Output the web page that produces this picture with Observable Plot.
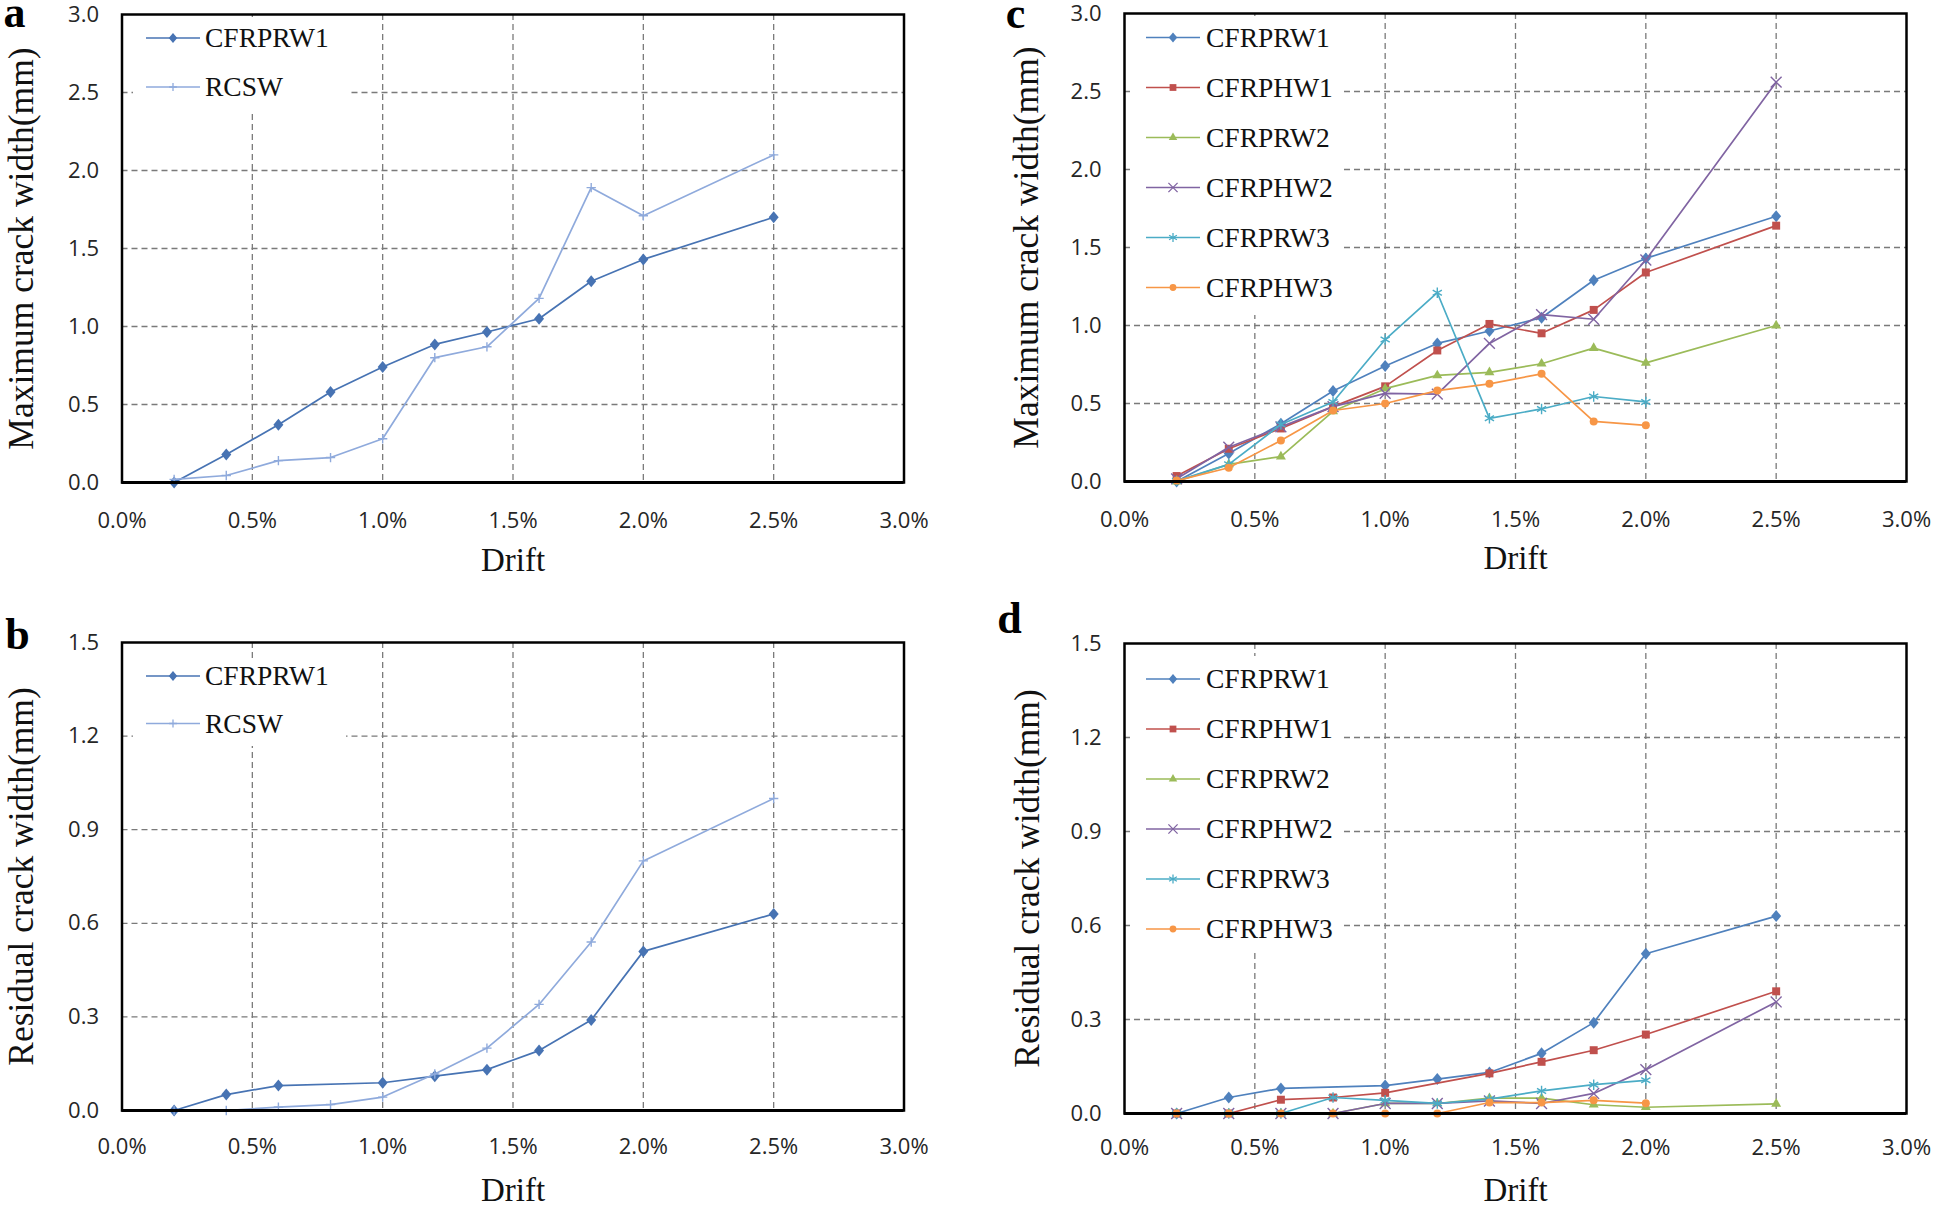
<!DOCTYPE html>
<html><head><meta charset="utf-8">
<script src="https://cdn.jsdelivr.net/npm/d3@7"></script>
<script src="https://cdn.jsdelivr.net/npm/@observablehq/plot@0.6"></script>
<style>
html,body{margin:0;padding:0;background:#fff;}
#root{position:relative;width:1937px;height:1207px;overflow:hidden;background:#fff;}
#root svg.panel{position:absolute;overflow:visible;}
#root svg.legend{position:absolute;}
</style></head><body><div id="root"></div>
<script>
// ---------- data ----------
const drift = [0.2, 0.4, 0.6, 0.8, 1.0, 1.2, 1.4, 1.6, 1.8, 2.0, 2.5];
const xTickValues = [0, 0.5, 1.0, 1.5, 2.0, 2.5, 3.0];
const maxTickValues = [0, 0.5, 1.0, 1.5, 2.0, 2.5, 3.0];
const resTickValues = [0, 0.3, 0.6, 0.9, 1.2, 1.5];

// Maximum crack width (mm)
const maxCFRPRW1 = [0, 0.18, 0.37, 0.58, 0.74, 0.885, 0.965, 1.05, 1.29, 1.43, 1.70];
const maxRCSW    = [0.02, 0.045, 0.14, 0.16, 0.28, 0.80, 0.87, 1.18, 1.89, 1.71, 2.10];
const maxCFRPHW1 = [0.035, 0.21, 0.34, 0.48, 0.61, 0.84, 1.01, 0.95, 1.10, 1.34, 1.64];
const maxCFRPRW2 = [0, 0.11, 0.16, 0.45, 0.595, 0.68, 0.70, 0.755, 0.855, 0.76, 1.00];
const maxCFRPHW2 = [0.017, 0.22, 0.35, 0.48, 0.565, 0.56, 0.885, 1.07, 1.04, 1.42, 2.56];
const maxCFRPRW3 = [0.005, 0.11, 0.365, 0.51, 0.91, 1.21, 0.405, 0.465, 0.545, 0.51, null];
const maxCFRPHW3 = [0.006, 0.088, 0.263, 0.455, 0.50, 0.583, 0.626, 0.69, 0.385, 0.36, null];

// Residual crack width (mm)
const resCFRPRW1 = [0, 0.051, 0.08, null, 0.089, 0.11, 0.131, 0.192, 0.29, 0.51, 0.63];
const resRCSW    = [0, 0, 0.011, 0.019, 0.043, 0.117, 0.20, 0.34, 0.54, 0.80, 1.00];
const resCFRPHW1 = [0, 0, 0.044, 0.051, 0.066, null, 0.128, 0.165, 0.202, 0.252, 0.39];
const resCFRPRW2 = [0, 0, 0, 0, 0.032, 0.032, 0.049, 0.049, 0.028, 0.02, 0.031];
const resCFRPHW2 = [0, 0, 0, 0, 0.032, 0.032, 0.04, 0.032, 0.064, 0.14, 0.356];
const resCFRPRW3 = [0, 0, 0, 0.051, 0.042, 0.032, 0.046, 0.072, 0.092, 0.106, null];
const resCFRPHW3 = [0, 0, 0, 0, 0, 0, 0.035, 0.035, 0.042, 0.033, null];

// ---------- styles ----------
const SERIF = "'Liberation Serif', 'Times New Roman', serif";
const SANS = "'Open Sans', Lato, sans-serif";
const excelDiamond = {draw(ctx, size) { const r = Math.sqrt(size / Math.PI); ctx.moveTo(0, -1.2 * r); ctx.lineTo(r, 0); ctx.lineTo(0, 1.2 * r); ctx.lineTo(-r, 0); ctx.closePath(); }};
const style = {
  CFRPRW1a: {color: "#4773B3", symbol: excelDiamond, r: 5, filled: true},
  RCSW:     {color: "#8FAADC", symbol: "plus", r: 3.1, filled: false},
  CFRPRW1:  {color: "#4F81BD", symbol: excelDiamond, r: 5, filled: true},
  CFRPHW1:  {color: "#C0504D", symbol: "square", r: 4.5, filled: true},
  CFRPRW2:  {color: "#9BBB59", symbol: "triangle", r: 3.7, filled: true},
  CFRPHW2:  {color: "#8064A2", symbol: "times", r: 5, filled: false},
  CFRPRW3:  {color: "#4BACC6", symbol: "asterisk", r: 5, filled: false},
  CFRPHW3:  {color: "#F79646", symbol: "circle", r: 4, filled: true}
};
const d3sym = {plus: d3.symbolPlus, square: d3.symbolSquare, triangle: d3.symbolTriangle, times: d3.symbolTimes, asterisk: d3.symbolAsterisk, circle: d3.symbolCircle};

const root = document.getElementById("root");

function makePanel(cfg) {
  const W = cfg.width, H = cfg.height;
  const marks = [
    Plot.gridX(cfg.xGrid, {stroke: "#7a7a7a", strokeOpacity: 1, strokeWidth: 1.3, strokeDasharray: "6,4"}),
    Plot.gridY(cfg.yGrid, {stroke: "#7a7a7a", strokeOpacity: 1, strokeWidth: 1.3, strokeDasharray: "6,4"})
  ];
  for (const s of cfg.series) {
    const st = style[s.style];
    const rows = drift.map((x, i) => ({x, y: s.values[i]})).filter(d => d.y != null);
    marks.push(Plot.line(rows, {x: "x", y: "y", stroke: st.color, strokeWidth: 1.7}));
    marks.push(Plot.dot(rows, {x: "x", y: "y", symbol: st.symbol, r: st.r,
      fill: st.filled ? st.color : "none", stroke: st.filled ? "none" : st.color, strokeWidth: 1.4}));
  }
  marks.push(
    Plot.frame({stroke: "#000", strokeWidth: 2.5}),
    Plot.ruleY([0], {stroke: "#000", strokeWidth: 3.2}),
    Plot.text(xTickValues, {x: d => d, text: d => d.toFixed(1) + "%", frameAnchor: "bottom", dy: cfg.tickDy,
      lineAnchor: "middle", textAnchor: "middle", fontSize: 22, fontFamily: SANS, fill: "#262626"}),
    Plot.text(cfg.yTicks, {y: d => d, text: d => d.toFixed(1), frameAnchor: "left", dx: -23,
      lineAnchor: "middle", textAnchor: "end", fontSize: 22, fontFamily: SANS, fill: "#262626"}),
    Plot.text(["Drift"], {frameAnchor: "bottom", dy: cfg.driftDy, lineAnchor: "middle", textAnchor: "middle",
      fontSize: 33, fontFamily: SERIF, fill: "#111"}),
    Plot.text([cfg.yTitle], {frameAnchor: "left", dx: cfg.titleDx, rotate: -90, lineAnchor: "middle", textAnchor: "middle",
      fontSize: 35.5, fontFamily: SERIF, fill: "#111"}),
    Plot.text([cfg.letter], {frameAnchor: "top-left", dx: cfg.letterDx, dy: cfg.letterDy, lineAnchor: "middle", textAnchor: "middle",
      fontSize: 44, fontWeight: "bold", fontFamily: SERIF, fill: "#000"})
  );
  const svg = Plot.plot({
    width: W, height: H,
    marginTop: cfg.mt, marginRight: cfg.mr, marginBottom: cfg.mb, marginLeft: cfg.ml,
    x: {domain: [0, 3], axis: null},
    y: {domain: [0, cfg.ymax], axis: null},
    style: {background: "transparent", overflow: "visible"},
    marks
  });
  svg.classList.add("panel");
  svg.style.left = cfg.left + "px";
  svg.style.top = cfg.top + "px";
  root.appendChild(svg);
}

function makeLegend(box, items) {
  const svg = d3.create("svg").attr("class", "legend")
    .attr("width", box.w).attr("height", box.h)
    .style("left", box.x + "px").style("top", box.y + "px");
  svg.append("rect").attr("width", box.w).attr("height", box.h).attr("fill", "#fff");
  items.forEach((it, i) => {
    const st = style[it.style];
    const cy = box.row0 - box.y + i * box.step;
    const x0 = box.lineX0 - box.x, x1 = box.lineX1 - box.x;
    svg.append("line").attr("x1", x0).attr("x2", x1).attr("y1", cy).attr("y2", cy)
      .attr("stroke", st.color).attr("stroke-width", 1.7);
    const type = st.symbol === excelDiamond ? excelDiamond : d3sym[st.symbol];
    const rr = st.r * 0.85;
    svg.append("path").attr("d", d3.symbol(type, Math.PI * rr * rr)())
      .attr("transform", `translate(${(x0 + x1) / 2},${cy})`)
      .attr("fill", st.filled ? st.color : "none").attr("stroke", st.filled ? "none" : st.color).attr("stroke-width", 1.3);
    svg.append("text").attr("x", box.textX - box.x).attr("y", cy + 9.1)
      .attr("font-family", SERIF).attr("font-size", 27.5).attr("fill", "#111").text(it.name);
  });
  root.appendChild(svg.node());
}

// ---------- panels ----------
const seriesA = [{name: "CFRPRW1", values: maxCFRPRW1, style: "CFRPRW1a"}, {name: "RCSW", values: maxRCSW, style: "RCSW"}];
const seriesB = [{name: "CFRPRW1", values: resCFRPRW1, style: "CFRPRW1a"}, {name: "RCSW", values: resRCSW, style: "RCSW"}];
const seriesC = [
  {name: "CFRPRW1", values: maxCFRPRW1, style: "CFRPRW1"},
  {name: "CFRPHW1", values: maxCFRPHW1, style: "CFRPHW1"},
  {name: "CFRPRW2", values: maxCFRPRW2, style: "CFRPRW2"},
  {name: "CFRPHW2", values: maxCFRPHW2, style: "CFRPHW2"},
  {name: "CFRPRW3", values: maxCFRPRW3, style: "CFRPRW3"},
  {name: "CFRPHW3", values: maxCFRPHW3, style: "CFRPHW3"}
];
const seriesD = [
  {name: "CFRPRW1", values: resCFRPRW1, style: "CFRPRW1"},
  {name: "CFRPHW1", values: resCFRPHW1, style: "CFRPHW1"},
  {name: "CFRPRW2", values: resCFRPRW2, style: "CFRPRW2"},
  {name: "CFRPHW2", values: resCFRPHW2, style: "CFRPHW2"},
  {name: "CFRPRW3", values: resCFRPRW3, style: "CFRPRW3"},
  {name: "CFRPHW3", values: resCFRPHW3, style: "CFRPHW3"}
];
const xGrid = xTickValues.slice(1, -1);

makePanel({left: 0, top: 0, width: 968, height: 600, mt: 14, mr: 64.5, mb: 118, ml: 121.5,
  ymax: 3, yTicks: maxTickValues, yGrid: maxTickValues.slice(1, -1), xGrid, series: seriesA,
  yTitle: "Maximum crack width(mm)", letter: "a", letterDx: -107.5, letterDy: -1.5,
  tickDy: 38, driftDy: 78, titleDx: -100.5});
makePanel({left: 0, top: 600, width: 968, height: 607, mt: 42, mr: 64.5, mb: 97, ml: 121.5,
  ymax: 1.5, yTicks: resTickValues, yGrid: resTickValues.slice(1, -1), xGrid, series: seriesB,
  yTitle: "Residual crack width(mm)", letter: "b", letterDx: -104.5, letterDy: -8,
  tickDy: 36, driftDy: 80, titleDx: -100.5});
makePanel({left: 968, top: 0, width: 969, height: 600, mt: 13, mr: 31, mb: 119, ml: 156,
  ymax: 3, yTicks: maxTickValues, yGrid: maxTickValues.slice(1, -1), xGrid, series: seriesC,
  yTitle: "Maximum crack width(mm)", letter: "c", letterDx: -109, letterDy: 0,
  tickDy: 38, driftDy: 77, titleDx: -98});
makePanel({left: 968, top: 600, width: 969, height: 607, mt: 43, mr: 31, mb: 94, ml: 156,
  ymax: 1.5, yTicks: resTickValues, yGrid: resTickValues.slice(1, -1), xGrid, series: seriesD,
  yTitle: "Residual crack width(mm)", letter: "d", letterDx: -115, letterDy: -25,
  tickDy: 34, driftDy: 77, titleDx: -97});

// ---------- legends ----------
makeLegend({x: 133, y: 17, w: 215, h: 93, row0: 38, step: 49, lineX0: 146, lineX1: 200, textX: 205}, seriesA);
makeLegend({x: 133, y: 658, w: 213, h: 88, row0: 676, step: 47.5, lineX0: 146, lineX1: 200, textX: 205}, seriesB);
makeLegend({x: 1131, y: 16, w: 212, h: 299, row0: 37.5, step: 50, lineX0: 1146, lineX1: 1200, textX: 1206}, seriesC);
makeLegend({x: 1131, y: 656, w: 212, h: 295, row0: 679, step: 50, lineX0: 1146, lineX1: 1200, textX: 1206}, seriesD);
</script></body></html>
